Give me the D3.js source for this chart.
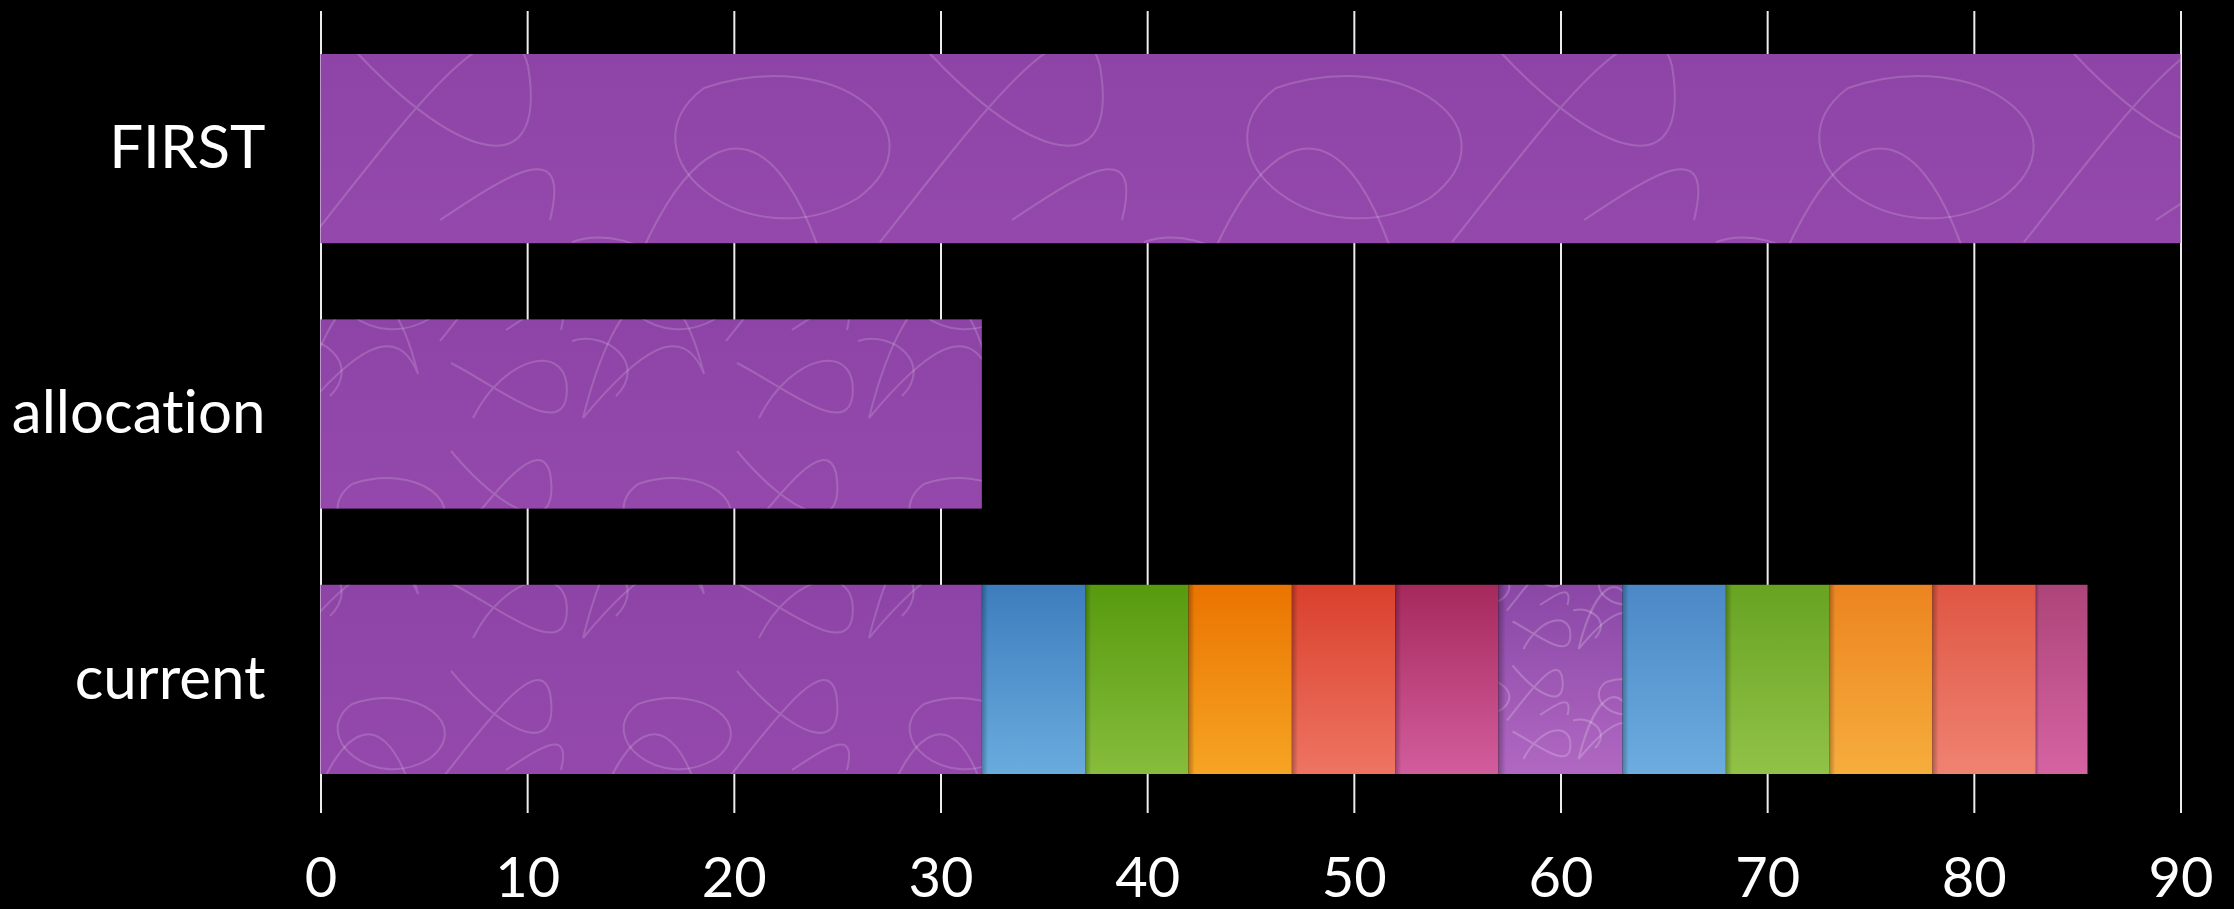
<!DOCTYPE html>
<html>
<head>
<meta charset="utf-8">
<script src="https://cdn.jsdelivr.net/npm/d3@7/dist/d3.min.js"></script>
<style>
  html, body { margin: 0; padding: 0; background: #000; }
  svg { display: block; }
  text { font-family: Lato, "Open Sans", sans-serif; fill: #fff; font-variant-ligatures: none; }
</style>
</head>
<body>
<svg id="chart" width="2234" height="909"></svg>
<script>
// ---- data ----
const categories = ["FIRST", "allocation", "current"];
const firstValues = [90];
const allocationValues = [32];
const currentSegments = [32, 5, 5, 5, 5, 5, 6, 5, 5, 5, 5, 2.5];
const xTickValues = [0, 10, 20, 30, 40, 50, 60, 70, 80, 90];

// ---- styles (top, bottom gradient colours per segment) ----
const segmentPalette = [
  ["#8e44a7", "#9448ac"],
  ["#3d7dbd", "#6aabde"],
  ["#579a0e", "#86bd3c"],
  ["#ea7400", "#f6a423"],
  ["#d9402c", "#ee7462"],
  ["#a6295c", "#d25d9d"],
  ["#8a47a6", "#b068c2"],
  ["#4b88c6", "#6cacdf"],
  ["#68a322", "#91c248"],
  ["#ec8420", "#f6ad3c"],
  ["#df5643", "#f08272"],
  ["#ad4479", "#d563a3"]
];

const W = 2234, H = 909;
const svg = d3.select("#chart");
const defs = svg.append("defs");

const x = d3.scaleLinear().domain([0, 90]).range([320.5, 2180.5]);
const y = d3.scaleBand().domain(categories).range([54, 774]).paddingInner(0.287).paddingOuter(0);

// gradients
segmentPalette.forEach((c, i) => {
  const g = defs.append("linearGradient").attr("id", "grad" + i)
    .attr("x1", 0).attr("y1", 0).attr("x2", 0).attr("y2", 1);
  g.append("stop").attr("offset", "0%").attr("stop-color", c[0]);
  g.append("stop").attr("offset", "100%").attr("stop-color", c[1]);
});
// left edge shade
const shade = defs.append("linearGradient").attr("id", "edgeShade")
  .attr("x1", 0).attr("y1", 0).attr("x2", 1).attr("y2", 0);
shade.append("stop").attr("offset", "0%").attr("stop-color", "#000").attr("stop-opacity", 0.28);
shade.append("stop").attr("offset", "6%").attr("stop-color", "#000").attr("stop-opacity", 0);
shade.append("stop").attr("offset", "100%").attr("stop-color", "#000").attr("stop-opacity", 0);

// decorative swirl texture
const swirlPaths = [
  "M10,180 C40,60 90,20 120,140 C100,90 60,120 10,180",
  "M150,10 C200,70 250,90 240,30 C230,-10 180,60 140,110",
  "M60,40 C20,70 80,120 130,90 C170,60 120,20 60,40",
  "M170,180 C200,120 260,110 255,160 C250,200 190,150 150,130",
  "M0,110 C30,100 70,130 40,160",
  "M200,100 C230,80 260,60 250,100"
];
function makePattern(id, w, h, scale, opacity) {
  const p = defs.append("pattern").attr("id", id)
    .attr("patternUnits", "userSpaceOnUse")
    .attr("width", w).attr("height", h)
    .attr("patternTransform", "scale(" + scale + ")");
  p.selectAll("path").data(swirlPaths).join("path")
    .attr("d", d => d)
    .attr("fill", "none")
    .attr("stroke", "#fff")
    .attr("stroke-opacity", opacity)
    .attr("stroke-width", 2 / scale);
}
makePattern("swirlBig", 260, 200, 2.2, 0.16);
makePattern("swirlSmall", 260, 200, 1.1, 0.16);
makePattern("swirlTiny", 260, 200, 0.55, 0.2);

// ---- gridlines / x axis ----
const gridBottom = 813, gridTop = 11;
const xAxis = d3.axisBottom(x).tickValues(xTickValues)
  .tickSize(-(gridBottom - gridTop)).tickFormat(d3.format("d"));
const gx = svg.append("g").attr("transform", `translate(0,${gridBottom})`).call(xAxis);
gx.select(".domain").remove();
gx.selectAll(".tick line").attr("stroke", "#ececec").attr("stroke-width", 2);
gx.selectAll(".tick text")
  .attr("y", 84).attr("dy", 0)
  .attr("fill", "#fff")
  .style("font-size", "56px")
  .style("font-family", "Lato, sans-serif");

// ---- y axis labels ----
const yAxis = d3.axisLeft(y).tickSize(0).tickPadding(55);
const gy = svg.append("g").attr("transform", `translate(${x(0)},0)`).call(yAxis);
gy.select(".domain").remove();
gy.selectAll(".tick text")
  .attr("fill", "#fff")
  .style("font-size", "60px")
  .style("font-family", "Lato, sans-serif");

// ---- bars ----
function drawStack(cat, values, patternFor) {
  let acc = 0;
  const segs = values.map((v, i) => { const s = { x0: acc, x1: acc + v, i }; acc += v; return s; });
  const g = svg.append("g");
  g.selectAll("rect.fill").data(segs).join("rect").attr("class", "fill")
    .attr("x", d => x(d.x0)).attr("width", d => x(d.x1) - x(d.x0))
    .attr("y", y(cat)).attr("height", y.bandwidth())
    .attr("fill", d => `url(#grad${d.i})`);
  g.selectAll("rect.tex").data(segs.filter(d => patternFor(d) !== null)).join("rect").attr("class", "tex")
    .attr("x", d => x(d.x0)).attr("width", d => x(d.x1) - x(d.x0))
    .attr("y", y(cat)).attr("height", y.bandwidth())
    .attr("fill", d => `url(#${patternFor(d)})`);
  g.selectAll("rect.shade").data(segs.filter(d => d.i > 0)).join("rect").attr("class", "shade")
    .attr("x", d => x(d.x0)).attr("width", d => x(d.x1) - x(d.x0))
    .attr("y", y(cat)).attr("height", y.bandwidth())
    .attr("fill", "url(#edgeShade)");
}
drawStack("FIRST", firstValues, d => "swirlBig");
drawStack("allocation", allocationValues, d => "swirlSmall");
drawStack("current", currentSegments, d => d.i === 0 ? "swirlSmall" : (d.i === 6 ? "swirlTiny" : null));
</script>
</body>
</html>
